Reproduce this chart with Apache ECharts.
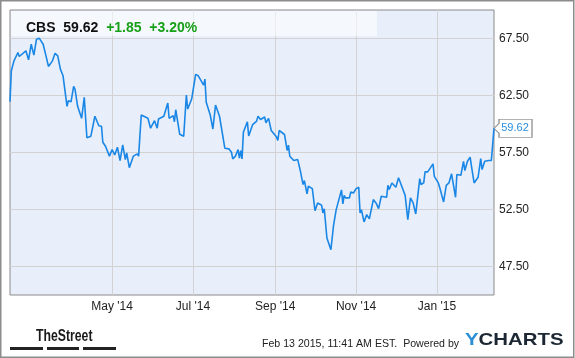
<!DOCTYPE html>
<html><head><meta charset="utf-8">
<script src="https://cdn.jsdelivr.net/npm/echarts@6/dist/echarts.min.js"></script>
<style>html,body{margin:0;padding:0;background:#fff}#c{width:575px;height:358px}</style>
</head><body><div id="c"></div>
<script>
const ticker = 'CBS';
const lastPrice = '59.62';
const change = '+1.85';
const changePct = '+3.20%';
const startDate = '2014-02-13';
const endDate = '2015-02-13';

const dates = ['2014-02-13','2014-02-14','2014-02-16','2014-02-19','2014-02-20','2014-02-25','2014-02-27','2014-03-01','2014-03-03','2014-03-05','2014-03-07','2014-03-10','2014-03-12','2014-03-14','2014-03-17','2014-03-19','2014-03-21','2014-03-23','2014-03-25','2014-03-28','2014-03-29','2014-03-31','2014-04-02','2014-04-03','2014-04-05','2014-04-08','2014-04-10','2014-04-12','2014-04-15','2014-04-18','2014-04-21','2014-04-23','2014-04-24','2014-04-26','2014-04-29','2014-05-01','2014-05-03','2014-05-05','2014-05-07','2014-05-09','2014-05-11','2014-05-12','2014-05-14','2014-05-17','2014-05-20','2014-05-21','2014-05-22','2014-05-23','2014-05-28','2014-05-30','2014-06-02','2014-06-04','2014-06-05','2014-06-09','2014-06-12','2014-06-13','2014-06-16','2014-06-17','2014-06-18','2014-06-21','2014-06-24','2014-06-26','2014-06-27','2014-06-30','2014-07-03','2014-07-05','2014-07-09','2014-07-10','2014-07-11','2014-07-14','2014-07-16','2014-07-18','2014-07-21','2014-07-25','2014-07-28','2014-07-30','2014-07-31','2014-08-02','2014-08-04','2014-08-05','2014-08-06','2014-08-07','2014-08-08','2014-08-11','2014-08-12','2014-08-15','2014-08-18','2014-08-19','2014-08-21','2014-08-24','2014-08-25','2014-08-27','2014-08-29','2014-08-31','2014-09-02','2014-09-03','2014-09-04','2014-09-08','2014-09-10','2014-09-11','2014-09-12','2014-09-15','2014-09-18','2014-09-20','2014-09-22','2014-09-23','2014-09-25','2014-09-26','2014-09-29','2014-10-01','2014-10-03','2014-10-06','2014-10-07','2014-10-08','2014-10-10','2014-10-13','2014-10-15','2014-10-17','2014-10-21','2014-10-22','2014-10-23','2014-10-24','2014-10-27','2014-10-28','2014-10-30','2014-11-01','2014-11-03','2014-11-04','2014-11-05','2014-11-07','2014-11-09','2014-11-11','2014-11-14','2014-11-16','2014-11-18','2014-11-20','2014-11-24','2014-11-25','2014-11-26','2014-11-28','2014-12-01','2014-12-03','2014-12-04','2014-12-05','2014-12-08','2014-12-10','2014-12-12','2014-12-14','2014-12-16','2014-12-19','2014-12-20','2014-12-22','2014-12-23','2014-12-25','2014-12-27','2014-12-29','2014-12-30','2015-01-02','2015-01-03','2015-01-06','2015-01-08','2015-01-10','2015-01-12','2015-01-15','2015-01-16','2015-01-19','2015-01-21','2015-01-22','2015-01-24','2015-01-26','2015-01-27','2015-01-29','2015-02-01','2015-02-03','2015-02-04','2015-02-06','2015-02-09','2015-02-10','2015-02-11','2015-02-13'];

const prices = [61.95,64.67,65.54,66.27,65.92,66.42,65.63,67.0,66.04,67.44,67.53,67.0,66.04,65.05,65.54,66.21,65.98,64.81,64.23,61.55,62.04,61.95,63.30,63.06,61.55,60.5,62.34,58.8,58.93,60.68,59.85,59.8,58.4,58.05,57.18,57.75,57.29,57.96,56.79,58.16,56.88,57.46,56.17,57.18,57.38,57.18,59.04,60.79,60.5,59.63,60.29,59.63,60.44,60.68,61.84,60.5,60.73,60.2,61.25,59.10,58.93,62.54,61.31,62.19,64.35,64.23,63.41,63.94,61.90,60.79,59.56,61.66,60.68,57.88,57.82,57.52,56.94,57.18,57.75,57.0,57.67,56.94,59.27,60.2,58.95,59.95,60.25,60.69,60.40,60.61,60.11,60.49,59.43,59.14,58.85,58.56,59.43,59.08,57.68,58.14,57.17,56.8,56.88,55.86,54.69,55.04,53.87,54.54,54.33,52.40,53.08,52.87,52.20,52.57,50.0,48.97,51.11,52.49,54.22,52.99,53.74,53.52,53.52,54.04,53.95,54.33,54.45,52.20,52.49,51.41,52.05,51.68,53.37,53.08,52.57,53.66,53.57,54.62,54.25,54.83,54.45,55.28,54.98,55.13,53.74,51.61,53.52,53.08,52.11,55.21,54.69,54.83,55.80,55.80,56.15,56.50,55.41,54.83,54.45,53.16,54.62,54.83,55.63,53.57,55.57,55.50,56.73,55.92,56.73,57.09,56.30,54.83,55.33,56.97,56.0,56.73,56.80,56.97,56.80,59.62];

const xTickDates = ['2014-05-01','2014-07-01','2014-09-01','2014-11-01','2015-01-01'];
const xTickLabels = ["May '14","Jul '14","Sep '14","Nov '14","Jan '15"];
const yTickLabels = ['47.50','52.50','57.50','62.50','67.50'];

// full calendar of days for the category axis
const days = [];
{
  const p0 = startDate.split('-').map(Number), p1 = endDate.split('-').map(Number);
  let t = Date.UTC(p0[0], p0[1]-1, p0[2]);
  const e = Date.UTC(p1[0], p1[1]-1, p1[2]);
  while (t <= e) { days.push(new Date(t).toISOString().slice(0,10)); t += 86400000; }
}
const isTick = (i, v) => xTickDates.indexOf(v) >= 0;
const FONT = '"Liberation Sans", Arial, sans-serif';

const chart = echarts.init(document.getElementById('c'), null, {renderer: 'canvas'});
chart.setOption({
  animation: false,
  backgroundColor: '#fff',
  title: {
    left: 21, top: 16,
    text: '{k|' + ticker + '}  {k|' + lastPrice + '}  {g|' + change + '}  {g|' + changePct + '}',
    textStyle: {
      fontFamily: FONT, fontSize: 14, fontWeight: 'bold', color: '#111',
      rich: {
        k: {fontFamily: FONT, fontSize: 14, fontWeight: 'bold', color: '#111'},
        g: {fontFamily: FONT, fontSize: 14, fontWeight: 'bold', color: '#18a018'}
      }
    },
    z: 10
  },
  grid: {
    left: 10, right: 81, top: 10, bottom: 63,
    show: true, backgroundColor: '#e8effa', borderColor: '#8a8a8a', borderWidth: 1
  },
  xAxis: {
    type: 'category', data: days, boundaryGap: false,
    axisLine: {show: false}, axisTick: {show: false},
    axisLabel: {
      interval: isTick, margin: 6, color: '#222', fontSize: 12, fontFamily: FONT,
      formatter: v => xTickLabels[xTickDates.indexOf(v)] || ''
    },
    splitLine: {show: true, interval: isTick, lineStyle: {color: '#d2d2d2', width: 1}}
  },
  yAxis: {
    type: 'value', position: 'right', min: 45, max: 70, interval: 2.5,
    axisLine: {show: false}, axisTick: {show: false},
    axisLabel: {
      margin: 5, color: '#222', fontSize: 12, fontFamily: FONT,
      formatter: v => yTickLabels.indexOf(v.toFixed(2)) >= 0 ? v.toFixed(2) : ''
    },
    splitLine: {show: true, lineStyle: {color: ['rgba(0,0,0,0)', '#d2d2d2'], width: 1}}
  },
  graphic: [
    {type: 'rect', left: 11, top: 11, z: 3, shape: {width: 366, height: 25},
      style: {fill: 'rgba(255,255,255,0.55)'}},
    {type: 'rect', z: 20, shape: {x: 0.75, y: 0.75, width: 573, height: 356.5},
      style: {fill: 'none', stroke: '#8c8c8c', lineWidth: 1.5}},
    {type: 'text', left: 36, top: 328, z: 20, scaleX: 0.72, originX: 0,
      style: {text: 'TheStreet', fontFamily: FONT, fontSize: 17, fontWeight: 'bold', fill: '#1a1a1a'}},
    {type: 'rect', left: 10, top: 347, z: 20, shape: {width: 33, height: 3}, style: {fill: '#222'}},
    {type: 'rect', left: 47, top: 347, z: 20, shape: {width: 32, height: 3}, style: {fill: '#222'}},
    {type: 'rect', left: 83, top: 347, z: 20, shape: {width: 33, height: 3}, style: {fill: '#222'}},
    {type: 'text', left: 262, top: 339, z: 20,
      style: {text: 'Feb 13 2015, 11:41 AM EST.  Powered by', fontFamily: FONT, fontSize: 10.6, fill: '#222'}},
    {type: 'text', left: 465, top: 332, z: 20, scaleX: 1.2, originX: 0,
      style: {text: '{y|Y}{c|CHARTS}', fontFamily: FONT, fontSize: 17, fontWeight: 'bold',
        rich: {y: {fontFamily: FONT, fontSize: 17, fontWeight: 'bold', fill: '#2b8fd6'},
               c: {fontFamily: FONT, fontSize: 17, fontWeight: 'bold', fill: '#1c2733'}}}}
  ],
  series: [{
    type: 'line',
    data: dates.map((d, i) => [d, prices[i]]),
    showSymbol: false, symbol: 'none',
    lineStyle: {color: '#1a87e6', width: 1.6},
    z: 5,
    markPoint: {
      symbol: 'path://M0,9 L5,4 L5,0 L38,0 L38,18 L5,18 L5,14 Z',
      symbolKeepAspect: false,
      symbolSize: [38, 18], symbolOffset: [19, 0],
      itemStyle: {color: '#fff', borderColor: '#999', borderWidth: 1},
      label: {show: true, position: 'inside', offset: [2, 0], color: '#2b8fe0', fontSize: 11, fontFamily: FONT,
        formatter: () => lastPrice},
      data: [{coord: [dates[dates.length-1], prices[prices.length-1]]}]
    }
  }]
});
</script></body></html>
